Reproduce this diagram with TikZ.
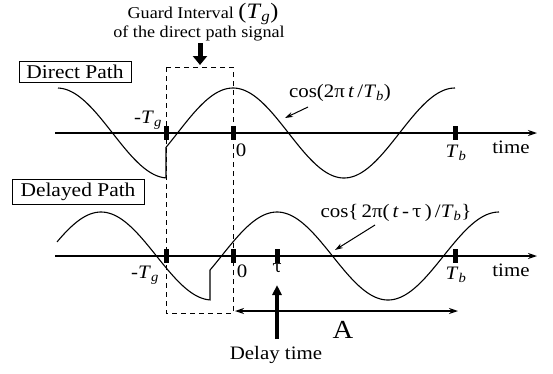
\documentclass[tikz,border=0pt]{standalone}
\usepackage{fontspec}
\setmainfont{Liberation Serif}[FakeStretch=1.1]
\newfontfamily\grkfont{DejaVu Serif}[Scale=0.9]
\usetikzlibrary{arrows.meta}
\begin{document}
\begin{tikzpicture}[x=1pt,y=-1pt,
  lab/.style={font=\fontsize{19}{21}\selectfont, inner sep=0pt},
  guard/.style={font=\fontsize{16.5}{18}\selectfont, inner sep=0pt},
  biglab/.style={font=\fontsize{26}{28}\selectfont, inner sep=0pt},
  pathbox/.style={draw, line width=0.9pt, font=\fontsize{19.5}{21}\selectfont, inner sep=0pt},
  tickmark/.style={fill=black, inner sep=0pt, minimum width=5pt, minimum height=14pt},
  axis/.style={line width=1.3pt, -{Stealth[length=9pt,width=6pt]}},
  wave/.style={line width=1.1pt},
  gbox/.style={line width=1pt, dash pattern=on 5pt off 4pt},
  pointer/.style={line width=1pt, -{Stealth[length=8pt,width=5pt]}},
  fatarrow/.style={line width=5pt, -{Triangle[length=9pt,width=14pt]}},
  delayarrow/.style={line width=3.5pt, -{Triangle[length=10pt,width=9pt]}},
  spanarrow/.style={line width=1.3pt, {Stealth[length=9pt,width=6pt]}-{Stealth[length=9pt,width=6pt]}}
]
\useasboundingbox (0,0) rectangle (553,373);

% guard interval heading
\node[guard, anchor=base] (g1) at (203,18) {Guard Interval \fontsize{22}{24}\selectfont(\textit{T}\textsubscript{\textit{g}})};
\node[guard, anchor=base] (g2) at (199,37) {of the direct path signal};
\coordinate (garrA) at (200,43);
\coordinate (garrB) at (200,65);
\draw[fatarrow] (garrA) -- (garrB);

% path boxes
\node[pathbox, minimum width=112pt, minimum height=21pt] (dbox) at (75,71.5) {Direct Path};
\node[pathbox, minimum width=132pt, minimum height=25pt] (ybox) at (78,192) {Delayed Path};

% guard interval dashed box
\coordinate (gtl) at (166,67);
\coordinate (gbr) at (233,313);
\draw[gbox] (gtl) rectangle (gbr);

% axes
\coordinate (dax0) at (55,133);
\coordinate (dax1) at (537,133);
\coordinate (yax0) at (55,256);
\coordinate (yax1) at (537,256);
\draw[axis] (dax0) -- (dax1);
\draw[axis] (yax0) -- (yax1);

% waves
\draw[wave] plot[domain=58:166, samples=60] (\x,{133-45*cos(1.621622*(\x-57))})
  -- plot[domain=166:455, samples=140] (\x,{133-45*cos(1.621622*(\x-233))});
\draw[wave] plot[domain=57:210, samples=80] (\x,{256-44*cos(1.621622*(\x-101))})
  -- plot[domain=210:499, samples=140] (\x,{256-44*cos(1.621622*(\x-277))});

% ticks
\node[tickmark] (dmg) at (166,133) {};
\node[tickmark] (d0) at (233,133) {};
\node[tickmark] (dtb) at (455,133) {};
\node[tickmark] (ymg) at (166,256) {};
\node[tickmark] (y0) at (233,256) {};
\node[tickmark] (ytau) at (277,256) {};
\node[tickmark] (ytb) at (455,256) {};

% tick labels
\node[lab] (ldmg) at (148,120) {-\textit{T}\textsubscript{\textit{g}}};
\node[lab] (ld0) at (241,150) {0};
\node[lab] (ldtb) at (456,153) {\textit{T}\textsubscript{\textit{b}}};
\node[lab] (ldtime) at (511,147) {time};
\node[lab] (lymg) at (145,275) {-\textit{T}\textsubscript{\textit{g}}};
\node[lab] (ly0) at (242,271) {0};
\node[lab] (lytau) at (277,268) {{\grkfont τ}};
\node[lab] (lytb) at (456,275) {\textit{T}\textsubscript{\textit{b}}};
\node[lab] (lytime) at (511,270) {time};

% cosine labels
\node[lab] (dcos) at (340,93) {cos(2π\,\textit{t}\,/\textit{T}\textsubscript{\textit{b}})};
\coordinate (dcosA) at (308,107);
\coordinate (dcosB) at (285,118);
\draw[pointer] (dcosA) -- (dcosB);
\node[lab] (ycos) at (396,213) {cos\{\,2π(\,\textit{t}\,-\,{\grkfont τ}\,)\,/\textit{T}\textsubscript{\textit{b}}\}};
\coordinate (ycosA) at (375,225);
\coordinate (ycosB) at (335,250);
\draw[pointer] (ycosA) -- (ycosB);

% delay time arrow
\coordinate (dtA) at (277,339);
\coordinate (dtB) at (277,285);
\draw[delayarrow] (dtA) -- (dtB);
\node[lab] (dtime) at (276,355) {Delay time};

% span A
\coordinate (spA) at (235,311);
\coordinate (spB) at (458,311);
\draw[spanarrow] (spA) -- (spB);
\node[biglab] (la) at (343,330) {A};
\end{tikzpicture}
\end{document}
